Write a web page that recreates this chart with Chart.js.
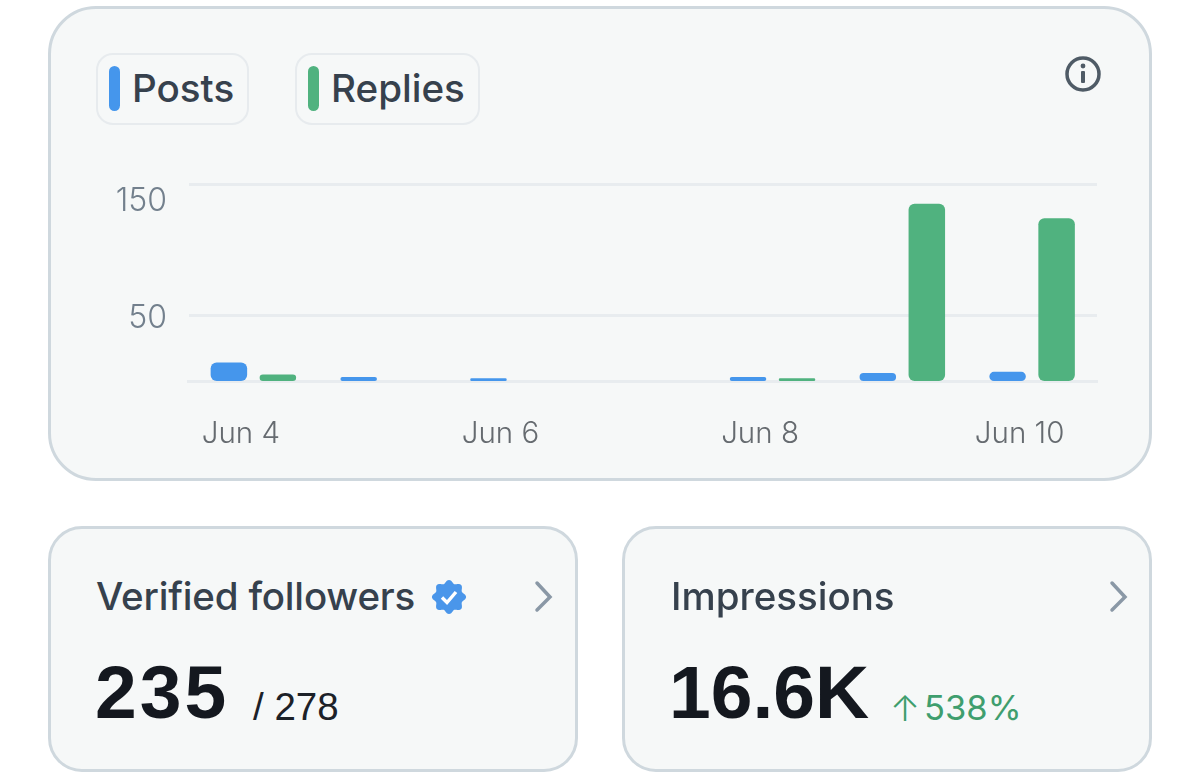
<!DOCTYPE html>
<html>
<head>
<meta charset="utf-8">
<title>Account overview</title>
<script src="https://cdn.jsdelivr.net/npm/chart.js@4"></script>
<style>
  html, body { margin: 0; padding: 0; background: #fff; }
  body { position: relative; width: 1200px; height: 783px; overflow: hidden; font-family: Inter, sans-serif; }
  .card { position: absolute; box-sizing: border-box; background: #f6f8f8; border: 3px solid #cfd8de; }
  #main { left: 48px; top: 6px; width: 1104px; height: 475px; border-radius: 48px; }
  #left { left: 48px; top: 526px; width: 530px; height: 246px; border-radius: 34px; }
  #right { left: 622px; top: 526px; width: 530px; height: 246px; border-radius: 34px; }
  canvas { position: absolute; left: 50px; top: 8px; }
  .pill { position: absolute; box-sizing: border-box; top: 53px; height: 72px; border: 2.5px solid #e7ebee; border-radius: 17px; }
  .swatch { position: absolute; top: 66px; width: 11px; height: 45px; border-radius: 5.5px; }
  .txt { position: absolute; white-space: nowrap; line-height: 1; }
  .pillText { font-size: 38.6px; font-weight: 500; color: #36414d; top: 69px; }
  .title { font-size: 38.5px; font-weight: 500; color: #36414d; top: 577px; }
  .big { font-family: "Liberation Sans", sans-serif; font-size: 75px; font-weight: 700; color: #14181f; top: 655px; }
  .sub { font-family: "Liberation Sans", sans-serif; font-size: 38.5px; color: #1c2128; top: 688px; }
  .delta { font-size: 34.5px; font-weight: 400; color: #3f9e6e; top: 691px; }
  svg { position: absolute; overflow: visible; }
</style>
</head>
<body>
<div class="card" id="main"></div>
<div class="card" id="left"></div>
<div class="card" id="right"></div>

<div class="pill" style="left:96px;width:153px"></div>
<div class="swatch" style="left:109px;background:#4596ec"></div>
<div class="txt pillText" style="left:132px">Posts</div>
<div class="pill" style="left:295px;width:185px"></div>
<div class="swatch" style="left:308px;background:#50b27f"></div>
<div class="txt pillText" style="left:331px">Replies</div>

<svg style="left:1083px;top:74px" width="1" height="1">
  <circle r="16" fill="none" stroke="#4f5b66" stroke-width="3.5"/>
  <rect x="-2" y="-3" width="4" height="12" rx="1" fill="#4f5b66"/>
  <circle cy="-8" r="2.4" fill="#4f5b66"/>
</svg>

<canvas id="activityChart" width="1100" height="470"></canvas>

<div class="txt title" style="left:96px;letter-spacing:-0.18px">Verified followers</div>
<svg id="badge" style="left:449px;top:597px" width="1" height="1"></svg>
<svg style="left:0;top:0" width="1" height="1">
  <path d="M537 583 L550 597 L537 610" fill="none" stroke="#8a98a6" stroke-width="3.5" stroke-linecap="round"/>
  <path d="M1112 583 L1125 597 L1112 610" fill="none" stroke="#8a98a6" stroke-width="3.5" stroke-linecap="round"/>
</svg>
<div class="txt big" style="left:95px;letter-spacing:3px">235</div>
<div class="txt sub" style="left:253px">/ 278</div>

<div class="txt title" style="left:671px">Impressions</div>
<div class="txt big" style="left:669px">16.6K</div>
<div class="txt delta" style="left:890px;font-weight:300;font-size:36px;top:690px">↑</div>
<div class="txt delta" style="left:924px">538%</div>

<script>
// Daily counts
const days = ['Jun 4', 'Jun 5', 'Jun 6', 'Jun 7', 'Jun 8', 'Jun 9', 'Jun 10'];
const posts = [14, 3, 2, 0, 3, 6, 7];
const replies = [5, 0, 0, 0, 2, 135, 124];
const yTicks = [50, 150];
const yTickLabels = ['50', '150'];
const xTickLabels = ['Jun 4', '', 'Jun 6', '', 'Jun 8', '', 'Jun 10'];
// y labels sit a little under their grid lines
const yLabelShift = [3, 17];

const tickFont = '300 32px Inter, sans-serif';

// Scalloped verified badge
function drawBadge() {
    const svg = document.getElementById('badge');
    let d = '';
    const lobes = 8;
    const steps = 96;
    for (let i = 0; i < steps; i++) {
        const a = (i / steps) * Math.PI * 2;
        const r = 15.5 + 1.6 * Math.cos(a * lobes);
        d += (i ? 'L' : 'M') + (r * Math.sin(a)).toFixed(2) + ' ' + (-r * Math.cos(a)).toFixed(2);
    }
    svg.innerHTML = '<path d="' + d + 'Z" fill="#4a96ea"/>' +
        '<path d="M-7 0.5 L-2 5.5 L7 -5" fill="none" stroke="#fff" stroke-width="3.4"/>';
}

// Writes the y tick labels with their own per-tick shift
const yLabelsPlugin = {
    id: 'yLabels',
    afterDraw(chart) {
        const ctx = chart.ctx;
        const scale = chart.scales.y;
        ctx.save();
        ctx.font = tickFont;
        ctx.fillStyle = '#73808d';
        ctx.textAlign = 'right';
        ctx.textBaseline = 'middle';
        yTicks.forEach((v, i) => {
            ctx.fillText(yTickLabels[i], 117, scale.getPixelForValue(v) + yLabelShift[i]);
        });
        ctx.restore();
    }
};

function renderChart() {
    const ctx = document.getElementById('activityChart').getContext('2d');
    new Chart(ctx, {
        type: 'bar',
        data: {
            labels: days,
            datasets: [
                { label: 'Posts', data: posts, backgroundColor: '#4596ec' },
                { label: 'Replies', data: replies, backgroundColor: '#50b27f' }
            ]
        },
        options: {
            responsive: false,
            animation: false,
            layout: { padding: { left: 138.5, right: 53, top: 176, bottom: 0 } },
            datasets: {
                bar: {
                    categoryPercentage: 0.755,
                    barPercentage: 0.745,
                    borderRadius: 6,
                    borderSkipped: false
                }
            },
            plugins: {
                legend: { display: false },
                tooltip: { enabled: false }
            },
            scales: {
                x: {
                    afterFit(scale) { scale.height = 97; },
                    grid: { display: false },
                    // the zero line is the axis border, so bars reach all the way down
                    border: { display: true, color: '#e8ecef', width: 3 },
                    ticks: {
                        autoSkip: false,
                        maxRotation: 0,
                        padding: 27,
                        labelOffset: -12.5,
                        color: '#666b70',
                        font: { family: 'Inter, sans-serif', size: 29.5, weight: 300 },
                        callback: (value, i) => xTickLabels[i]
                    }
                },
                y: {
                    min: 0,
                    max: 150,
                    afterBuildTicks(scale) { scale.ticks = yTicks.map(v => ({ value: v })); },
                    grid: { color: '#e8ecef', lineWidth: 3, drawTicks: false },
                    border: { display: false },
                    ticks: { display: false }
                }
            }
        },
        plugins: [yLabelsPlugin]
    });
}

drawBadge();
renderChart();
</script>
</body>
</html>
